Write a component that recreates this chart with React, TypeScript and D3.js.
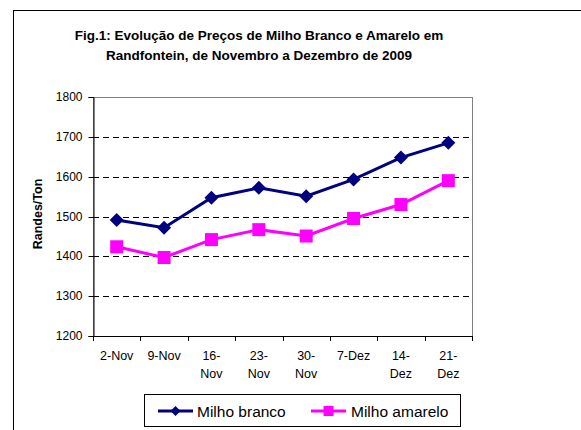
import React, { useRef, useEffect } from 'react';
import * as d3 from 'd3';

const dates = ['2-Nov', '9-Nov', '16-Nov', '23-Nov', '30-Nov', '7-Dez', '14-Dez', '21-Dez'];
const milhoBranco = [1491, 1472, 1547, 1572, 1551, 1593, 1648, 1685];
const milhoAmarelo = [1424, 1397, 1442, 1467, 1451, 1495, 1530, 1590];
const yTicks = [1200, 1300, 1400, 1500, 1600, 1700, 1800];
const titleLines = [
    'Fig.1: Evolução de Preços de Milho Branco e Amarelo em',
    'Randfontein, de Novembro a Dezembro de 2009',
];

const series = [
    { name: 'Milho branco', vals: milhoBranco, color: '#000080', shape: 'diamond' },
    { name: 'Milho amarelo', vals: milhoAmarelo, color: '#FF00FF', shape: 'square' },
];

export default function App() {
    const svg_ref = useRef(null);
    useEffect(() => { draw(svg_ref.current); }, []);
    return (
        <div style={{ position: 'absolute', left: 0, top: 0 }}>
            <svg ref={svg_ref} width={581} height={430}></svg>
        </div>
    );
}

function draw(node) {
    const svg = d3.select(node);
    svg.selectAll('*').remove();
    const font = "'Liberation Sans', Arial, sans-serif";
    const left = 93, right = 472, top = 97, bottom = 336;

    svg.append('rect').attr('width', 581).attr('height', 430).attr('fill', '#fff');
    // outer chart frame
    svg.append('rect')
        .attr('x', 13.5).attr('y', 10.5)
        .attr('width', 620).attr('height', 440)
        .attr('fill', 'none').attr('stroke', '#000').attr('stroke-width', 1);

    svg.append('g').selectAll('text')
        .data(titleLines)
        .join('text')
        .attr('x', 259).attr('y', (d, i) => 40 + i * 20)
        .attr('text-anchor', 'middle')
        .attr('font-family', font).attr('font-size', 13.5).attr('font-weight', 'bold')
        .attr('fill', '#000')
        .text(d => d);

    const scaleX = d3.scaleBand().domain(dates).range([left, right]);
    const scaleY = d3.scaleLinear().domain([1200, 1800]).range([bottom, top]);

    // plot border (gray)
    svg.append('rect')
        .attr('x', left + 0.5).attr('y', top + 0.5)
        .attr('width', right - left).attr('height', bottom - top)
        .attr('fill', 'none').attr('stroke', '#808080').attr('stroke-width', 1);

    // dashed gridlines
    svg.append('g').selectAll('line')
        .data(yTicks.filter(t => t > 1200))
        .join('line')
        .attr('x1', left).attr('x2', right)
        .attr('y1', d => Math.round(scaleY(d)) + 0.5).attr('y2', d => Math.round(scaleY(d)) + 0.5)
        .attr('stroke', d => d === 1800 ? '#808080' : '#000')
        .attr('stroke-dasharray', '6,4');

    // y axis
    const yAxis = d3.axisLeft(scaleY).tickValues(yTicks).tickSize(5).tickPadding(6).tickFormat(d3.format('d'));
    const gy = svg.append('g').attr('transform', `translate(${left + 0.5},0)`).call(yAxis);
    gy.select('.domain').attr('stroke', '#000');
    gy.selectAll('.tick line').attr('stroke', '#000');
    gy.selectAll('text').attr('font-family', font).attr('font-size', 12).attr('fill', '#000');
    gy.selectAll('.tick').attr('transform', d => `translate(0,${Math.round(scaleY(d)) + 0.5})`);

    // x axis baseline and ticks between categories
    svg.append('line')
        .attr('x1', left).attr('x2', right + 1)
        .attr('y1', bottom + 0.5).attr('y2', bottom + 0.5)
        .attr('stroke', '#000');
    const bounds = dates.map(d => scaleX(d)).concat([right]);
    svg.append('g').selectAll('line')
        .data(bounds)
        .join('line')
        .attr('x1', d => Math.round(d) + 0.5).attr('x2', d => Math.round(d) + 0.5)
        .attr('y1', bottom).attr('y2', bottom + 5)
        .attr('stroke', '#000');

    // x labels (wrapped on "-" when too long)
    const xl = svg.append('g').selectAll('text')
        .data(dates)
        .join('text')
        .attr('x', d => scaleX(d) + scaleX.bandwidth() / 2)
        .attr('y', 360)
        .attr('text-anchor', 'middle')
        .attr('font-family', font).attr('font-size', 12.5).attr('fill', '#000');
    xl.each(function (d) {
        const t = d3.select(this);
        const parts = d.split('-');
        if (parts[0].length >= 2) {
            t.append('tspan').attr('x', t.attr('x')).attr('dy', 0).text(parts[0] + '-');
            t.append('tspan').attr('x', t.attr('x')).attr('dy', 18).text(parts[1]);
        } else {
            t.text(d);
        }
    });

    // y title
    svg.append('text')
        .attr('transform', 'translate(42,214) rotate(-90)')
        .attr('text-anchor', 'middle')
        .attr('font-family', font).attr('font-size', 12.5).attr('font-weight', 'bold')
        .attr('fill', '#000')
        .text('Randes/Ton');

    const line = d3.line()
        .x((d, i) => scaleX(dates[i]) + scaleX.bandwidth() / 2)
        .y(d => scaleY(d));

    series.forEach(s => {
        const g = svg.append('g');
        g.append('path')
            .attr('d', line(s.vals))
            .attr('fill', 'none').attr('stroke', s.color).attr('stroke-width', 3);
        g.selectAll('path.m')
            .data(s.vals)
            .join('path')
            .attr('class', 'm')
            .attr('transform', (d, i) => `translate(${scaleX(dates[i]) + scaleX.bandwidth() / 2},${scaleY(d)})`)
            .attr('d', s.shape === 'diamond' ? 'M0,-7L7,0L0,7L-7,0Z' : 'M-6.5,-6.5H6.5V6.5H-6.5Z')
            .attr('fill', s.color);
    });

    // legend
    const lg = svg.append('g');
    lg.append('rect')
        .attr('x', 144.5).attr('y', 394.5).attr('width', 316).attr('height', 32)
        .attr('fill', '#fff').attr('stroke', '#000');
    const items = [
        { s: series[0], x: 158, tx: 197 },
        { s: series[1], x: 311, tx: 351 },
    ];
    items.forEach(({ s, x, tx }) => {
        lg.append('line')
            .attr('x1', x).attr('x2', x + 35).attr('y1', 411).attr('y2', 411)
            .attr('stroke', s.color).attr('stroke-width', 3);
        lg.append('path')
            .attr('transform', `translate(${x + 17.5},411)`)
            .attr('d', s.shape === 'diamond' ? 'M0,-5L5,0L0,5L-5,0Z' : 'M-5,-5H5V5H-5Z')
            .attr('fill', s.color);
        lg.append('text')
            .attr('x', tx).attr('y', 416.5)
            .attr('font-family', font).attr('font-size', 15.5).attr('fill', '#000')
            .text(s.name);
    });
}
